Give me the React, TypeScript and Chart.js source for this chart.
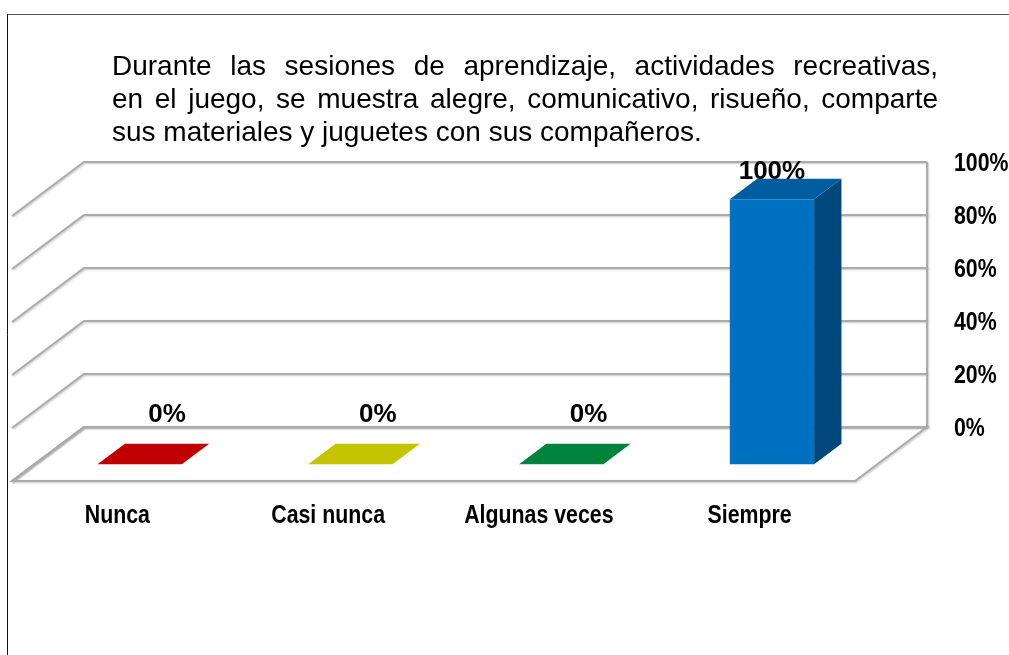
import React, { useEffect, useRef } from "react";
import { Chart, registerables } from "chart.js";

Chart.register(...registerables);

// ---- data ----
const TITLE_LINES = [
  "Durante las sesiones de aprendizaje, actividades recreativas,",
  "en el juego, se muestra alegre, comunicativo, risueño, comparte",
  "sus materiales y juguetes con sus compañeros.",
];
const CATEGORIES = ["Nunca", "Casi nunca", "Algunas veces", "Siempre"];
const VALUES = [0, 0, 0, 100];
const BAR_COLORS = ["#C00000", "#C4C400", "#00843D", "#0070C0"];
const Y_TICKS = [0, 20, 40, 60, 80, 100];

// ---- 3D look ----
const DEPTH_DX = -72;
const DEPTH_DY = 54;
const BAR_BACK = 0.31;
const BAR_FRONT = 0.69;
const GRID_COLOR = "#ababab";
const FONT = '"Liberation Sans", Arial, Helvetica, sans-serif';

function shade(hex: string, f: number): string {
  const n = parseInt(hex.slice(1), 16);
  const r = Math.round(((n >> 16) & 255) * f);
  const g = Math.round(((n >> 8) & 255) * f);
  const b = Math.round((n & 255) * f);
  return `rgb(${r},${g},${b})`;
}

function poly(ctx: CanvasRenderingContext2D, pts: number[][], fill: string) {
  ctx.beginPath();
  ctx.moveTo(pts[0][0], pts[0][1]);
  for (let i = 1; i < pts.length; i++) ctx.lineTo(pts[i][0], pts[i][1]);
  ctx.closePath();
  ctx.fillStyle = fill;
  ctx.fill();
}

function drawText(
  ctx: CanvasRenderingContext2D,
  text: string,
  x: number,
  y: number,
  font: string,
  scaleX: number,
  align: CanvasTextAlign
) {
  ctx.save();
  ctx.font = font;
  ctx.translate(x, y);
  ctx.scale(scaleX, 1);
  ctx.textAlign = align;
  ctx.textBaseline = "middle";
  ctx.fillStyle = "#000";
  ctx.fillText(text, 0, 0);
  ctx.restore();
}

const threeDPlugin = {
  id: "threeD",
  beforeDraw(chart: any) {
    const ctx: CanvasRenderingContext2D = chart.ctx;
    ctx.save();
    ctx.fillStyle = "#ffffff";
    ctx.fillRect(0, 0, chart.width, chart.height);
    ctx.lineWidth = 1;
    ctx.strokeStyle = "#555555";
    ctx.beginPath();
    ctx.moveTo(7, 14.5);
    ctx.lineTo(chart.width, 14.5);
    ctx.stroke();
    ctx.strokeStyle = "#111111";
    ctx.beginPath();
    ctx.moveTo(7.5, 14);
    ctx.lineTo(7.5, chart.height);
    ctx.stroke();
    ctx.restore();
  },
  beforeDatasetsDraw(chart: any) {
    const ctx: CanvasRenderingContext2D = chart.ctx;
    const { left, right, top, bottom } = chart.chartArea;
    const yScale = chart.scales.y;
    ctx.save();
    ctx.strokeStyle = GRID_COLOR;
    ctx.lineWidth = 2;
    ctx.lineJoin = "miter";
    ctx.shadowColor = "rgba(0,0,0,0.22)";
    ctx.shadowBlur = 2;
    ctx.shadowOffsetX = 1;
    ctx.shadowOffsetY = 1;
    // side wall + back wall gridlines
    yScale.ticks.forEach((t: any) => {
      const y = yScale.getPixelForValue(t.value);
      ctx.beginPath();
      ctx.moveTo(left + DEPTH_DX, y + DEPTH_DY);
      ctx.lineTo(left, y);
      ctx.lineTo(right, y);
      ctx.stroke();
    });
    // right edge of back wall
    ctx.beginPath();
    ctx.moveTo(right, top);
    ctx.lineTo(right, bottom);
    ctx.stroke();
    // floor
    ctx.beginPath();
    ctx.moveTo(left, bottom);
    ctx.lineTo(right, bottom);
    ctx.lineTo(right + DEPTH_DX, bottom + DEPTH_DY);
    ctx.lineTo(left + DEPTH_DX, bottom + DEPTH_DY);
    ctx.closePath();
    ctx.stroke();
    ctx.restore();
  },
  beforeDatasetDraw() {
    return false;
  },
  afterDatasetsDraw(chart: any) {
    const ctx: CanvasRenderingContext2D = chart.ctx;
    const { right, top, bottom } = chart.chartArea;
    const meta = chart.getDatasetMeta(0);
    const ds = chart.data.datasets[0];
    const fx = DEPTH_DX * BAR_FRONT;
    const fy = DEPTH_DY * BAR_FRONT;
    const bx = DEPTH_DX * BAR_BACK;
    const by = DEPTH_DY * BAR_BACK;
    ctx.save();
    meta.data.forEach((el: any, i: number) => {
      const { x, y, base, width } = el.getProps(["x", "y", "base", "width"], true);
      const color = (ds.backgroundColor as string[])[i];
      const L = x - width / 2;
      const R = x + width / 2;
      const T = Math.min(y, base);
      const B = Math.max(y, base);
      const h = B - T;
      if (h < 1) {
        poly(ctx, [[L + fx, B + fy], [R + fx, B + fy], [R + bx, B + by], [L + bx, B + by]], color);
      } else {
        poly(ctx, [[R + fx, T + fy], [R + bx, T + by], [R + bx, B + by], [R + fx, B + fy]], shade(color, 0.64));
        poly(ctx, [[L + fx, T + fy], [R + fx, T + fy], [R + bx, T + by], [L + bx, T + by]], shade(color, 0.83));
        ctx.fillStyle = color;
        ctx.fillRect(L + fx, T + fy, width, h);
      }
      // value label
      const v = (ds.data as number[])[i];
      const lx = v > 0 ? x + fx : x + bx;
      const ly = Math.max(T + by - 29, top + 10);
      drawText(ctx, v + "%", lx, ly, `bold 26px ${FONT}`, 1, "center");
    });
    // y tick labels on the right
    const yScale = chart.scales.y;
    yScale.ticks.forEach((t: any) => {
      const yy = yScale.getPixelForValue(t.value);
      drawText(ctx, t.value + "%", right + 27, yy + 2, `bold 26px ${FONT}`, 0.82, "left");
    });
    // category labels on the front edge
    const xScale = chart.scales.x;
    (chart.data.labels as string[]).forEach((lab: string, i: number) => {
      const cx = xScale.getPixelForValue(i) + DEPTH_DX;
      drawText(ctx, lab, cx, bottom + DEPTH_DY + 35, `bold 26px ${FONT}`, 0.82, "center");
    });
    ctx.restore();
  },
};

export default function App() {
  const canvasRef = useRef<HTMLCanvasElement | null>(null);

  useEffect(() => {
    if (!canvasRef.current) return;
    const chart = new Chart(canvasRef.current, {
      type: "bar",
      data: {
        labels: CATEGORIES,
        datasets: [
          {
            data: VALUES,
            backgroundColor: BAR_COLORS,
            barPercentage: 0.4,
            categoryPercentage: 1,
          },
        ],
      },
      options: {
        responsive: false,
        maintainAspectRatio: false,
        animation: false,
        events: [],
        layout: { padding: { left: 84, right: 82, top: 162, bottom: 228 } },
        plugins: {
          legend: { display: false },
          tooltip: { enabled: false },
        },
        scales: {
          x: { display: false },
          y: {
            display: false,
            min: 0,
            max: 100,
            afterBuildTicks: (scale: any) => {
              scale.ticks = Y_TICKS.map((v) => ({ value: v }));
            },
          },
        },
      },
      plugins: [threeDPlugin],
    });
    return () => chart.destroy();
  }, []);

  const lineBase: React.CSSProperties = {
    height: 33,
    whiteSpace: "nowrap",
    overflow: "visible",
  };

  return (
    <div
      style={{
        position: "absolute",
        left: 0,
        top: 0,
        width: 1009,
        height: 655,
        overflow: "hidden",
        background: "#fff",
      }}
    >
      <canvas ref={canvasRef} width={1009} height={655} style={{ position: "absolute", left: 0, top: 0 }} />
      <div
        style={{
          position: "absolute",
          left: 112,
          top: 49,
          width: 826,
          fontFamily: FONT,
          fontSize: 28,
          lineHeight: "33px",
          color: "#000",
        }}
      >
        {TITLE_LINES.map((line, i) => (
          <div
            key={i}
            style={{
              ...lineBase,
              whiteSpace: i < TITLE_LINES.length - 1 ? "normal" : "nowrap",
              textAlign: i < TITLE_LINES.length - 1 ? "justify" : "left",
              textAlignLast: i < TITLE_LINES.length - 1 ? "justify" : "auto",
            }}
          >
            {line}
          </div>
        ))}
      </div>
    </div>
  );
}
